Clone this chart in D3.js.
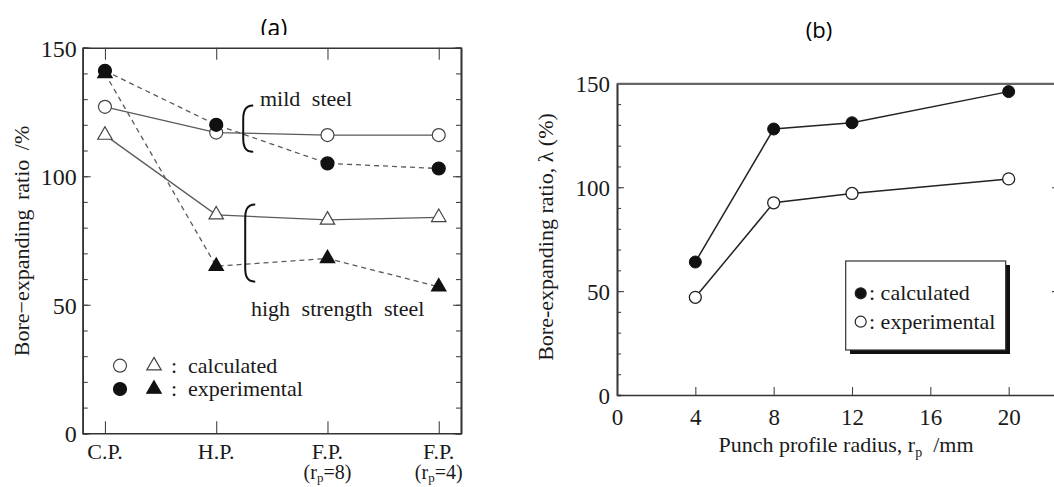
<!DOCTYPE html>
<html>
<head>
<meta charset="utf-8">
<script src="https://cdn.jsdelivr.net/npm/d3@7"></script>
<style>
  body { margin: 0; background: #fff; }
  svg { display: block; }
  svg text { font-family: "Liberation Serif", "Times New Roman", serif !important; fill: #1a1a1a; }
  svg text.title { font-family: "Open Sans", "Liberation Sans", sans-serif !important; fill: #000; }
</style>
</head>
<body>
<svg id="chart" width="1054" height="487" font-family="Liberation Serif"></svg>
<script>
// ---- panel (a) data ----
const catsA = ['C.P.', 'H.P.', 'F.P.8', 'F.P.4'];
const catLabelsA = ['C.P.', 'H.P.', 'F.P.', 'F.P.'];
const catSubA = ['', '', '8', '4'];
const mildCalc = [127, 117, 116, 116];
const mildExp = [141, 120, 105, 103];
const hssCalc = [116, 85, 83, 84];
const hssExp = [140, 65, 68, 57];
const yTicksA = [0, 50, 100, 150];

// ---- panel (b) data ----
const radiusB = [4, 8, 12, 20];
const calcB = [64, 128, 131, 146];
const expB = [47, 92.5, 97, 104];
const xTicksB = [0, 4, 8, 12, 16, 20];
const yTicksB = [0, 50, 100, 150];

const svg = d3.select('#chart');

// titles
svg.append('text').attr('class', 'title')
  .attr('x', 274).attr('y', 36).attr('text-anchor', 'middle')
  .style('font-size', '23px').text('(a)');
svg.append('text').attr('class', 'title')
  .attr('x', 819).attr('y', 38).attr('text-anchor', 'middle')
  .style('font-size', '22px').text('(b)');
// the (a) picture sits over the bottom of its title
svg.append('rect').attr('x', 0).attr('y', 35).attr('width', 520).attr('height', 452)
  .attr('fill', '#fff');

// ================= panel (a) =================
const xa = d3.scalePoint().domain(catsA).range([82.7, 461]).padding(0.2);
const ya = d3.scaleLinear().domain([0, 150]).range([433.3, 47.7]);
const ga = svg.append('g');

function styleAxis(g) {
  g.attr('font-family', 'Liberation Serif');
  g.selectAll('.domain').attr('stroke', '#333').attr('stroke-width', 1.6);
  g.selectAll('.tick line').attr('stroke', '#444').attr('stroke-width', 1.1);
  g.selectAll('text').attr('fill', '#1a1a1a');
}

// minor y ticks (every 10), left and right, inward
ga.append('g').attr('transform', 'translate(82.7,0)')
  .call(d3.axisLeft(ya).tickValues(d3.range(0, 151, 10)).tickSize(-5).tickFormat(''))
  .call(styleAxis);
ga.append('g').attr('transform', 'translate(461,0)')
  .call(d3.axisRight(ya).tickValues(d3.range(0, 151, 10)).tickSize(-5).tickFormat(''))
  .call(styleAxis);
// major y ticks with labels
ga.append('g').attr('transform', 'translate(82.7,0)')
  .call(d3.axisLeft(ya).tickValues(yTicksA).tickSizeInner(-8).tickSizeOuter(0).tickPadding(6))
  .call(styleAxis)
  .selectAll('text').style('font-size', '24px').attr('dy', '0.35em');
ga.append('g').attr('transform', 'translate(461,0)')
  .call(d3.axisRight(ya).tickValues(yTicksA).tickSizeInner(-8).tickSizeOuter(0).tickFormat(''))
  .call(styleAxis);
// x axes top / bottom, inward ticks
ga.append('g').attr('transform', 'translate(0,433.3)')
  .call(d3.axisBottom(xa).tickSizeInner(-12).tickSizeOuter(0).tickFormat(''))
  .call(styleAxis);
ga.append('g').attr('transform', 'translate(0,47.7)')
  .call(d3.axisTop(xa).tickSizeInner(-12).tickSizeOuter(0).tickFormat(''))
  .call(styleAxis);

// category labels
catsA.forEach(function(c, i) {
  ga.append('text').attr('x', xa(c)).attr('y', 459).attr('text-anchor', 'middle')
    .style('font-size', '22px').text(catLabelsA[i]);
  if (catSubA[i]) {
    const t = ga.append('text').attr('x', xa(c)).attr('y', 479).attr('text-anchor', 'middle')
      .style('font-size', '20px');
    t.append('tspan').text('(r');
    t.append('tspan').attr('dy', 3).style('font-size', '13px').text('p');
    t.append('tspan').attr('dy', -3).text('=' + catSubA[i] + ')');
  }
});

// y label
ga.append('text')
  .attr('transform', 'translate(29,241) rotate(-90)')
  .attr('text-anchor', 'middle')
  .style('font-size', '22px').style('word-spacing', '4px')
  .text('Bore\u2212expanding ratio /%');

const lineA = d3.line().x((d, i) => xa(catsA[i])).y(d => ya(d));

function drawSeries(values, dashed) {
  ga.append('path').datum(values)
    .attr('d', lineA).attr('fill', 'none')
    .attr('stroke', '#5a5a5a').attr('stroke-width', 1.3)
    .attr('stroke-dasharray', dashed ? '5,4' : null);
}
drawSeries(mildCalc, false);
drawSeries(hssCalc, false);
drawSeries(mildExp, true);
drawSeries(hssExp, true);

const tri = d3.symbol(d3.symbolTriangle, 90);
function circles(values, filled) {
  ga.selectAll(null).data(values).enter().append('circle')
    .attr('cx', (d, i) => xa(catsA[i])).attr('cy', d => ya(d)).attr('r', 6.5)
    .attr('fill', filled ? '#111' : '#fff').attr('stroke', filled ? '#111' : '#444')
    .attr('stroke-width', 1.2);
}
function triangles(values, filled) {
  ga.selectAll(null).data(values).enter().append('path')
    .attr('d', tri)
    .attr('transform', (d, i) => 'translate(' + xa(catsA[i]) + ',' + ya(d) + ')')
    .attr('fill', filled ? '#111' : '#fff').attr('stroke', filled ? '#111' : '#444')
    .attr('stroke-width', 1.2);
}
circles(mildCalc, false);
triangles(hssCalc, false);
triangles(hssExp, true);
circles(mildExp, true);

// braces and group labels
function brace(x, yTop, yBot) {
  const p = d3.path();
  p.moveTo(x + 11, yTop);
  p.bezierCurveTo(x + 2, yTop, x + 1, yTop + 7, x + 1, yTop + 14);
  p.lineTo(x + 1, yBot - 14);
  p.bezierCurveTo(x + 1, yBot - 7, x + 2, yBot, x + 11, yBot);
  ga.append('path').attr('d', p.toString()).attr('fill', 'none')
    .attr('stroke', '#111').attr('stroke-width', 2);
}
brace(xa('H.P.') + 26, ya(127.5), ya(109.5));
brace(xa('H.P.') + 28, ya(89), ya(59));
ga.append('text').attr('x', 260).attr('y', ya(127.2))
  .style('font-size', '22px').style('word-spacing', '6px').text('mild steel');
ga.append('text').attr('x', 251).attr('y', ya(45.6))
  .style('font-size', '22px').style('word-spacing', '6px').text('high strength steel');

// legend (a)
const legA = [
  { y: 365.7, filled: false, label: 'calculated' },
  { y: 389, filled: true, label: 'experimental' }
];
legA.forEach(function(r) {
  ga.append('circle').attr('cx', 120).attr('cy', r.y).attr('r', 6.5)
    .attr('fill', r.filled ? '#111' : '#fff').attr('stroke', r.filled ? '#111' : '#444').attr('stroke-width', 1.2);
  ga.append('path').attr('d', tri).attr('transform', 'translate(154,' + r.y + ')')
    .attr('fill', r.filled ? '#111' : '#fff').attr('stroke', r.filled ? '#111' : '#444').attr('stroke-width', 1.2);
  ga.append('text').attr('x', 171).attr('y', r.y + 7).style('font-size', '22px').text(':');
  ga.append('text').attr('x', 188).attr('y', r.y + 7).style('font-size', '22px').text(r.label);
});

// ================= panel (b) =================
const xb = d3.scaleLinear().domain([0, 22.57]).range([617, 1059]);
const yb = d3.scaleLinear().domain([0, 150]).range([395, 83.3]);
const gb = svg.append('g');

gb.append('g').attr('transform', 'translate(617,0)')
  .call(d3.axisLeft(yb).tickValues(d3.range(0, 151, 10)).tickSize(-4).tickFormat(''))
  .call(styleAxis);
gb.append('g').attr('transform', 'translate(617,0)')
  .call(d3.axisLeft(yb).tickValues(yTicksB).tickSizeInner(-7).tickSizeOuter(0).tickPadding(7))
  .call(styleAxis)
  .selectAll('text').style('font-size', '23px').attr('dy', '0.35em');
gb.append('g').attr('transform', 'translate(1059,0)')
  .call(d3.axisRight(yb).tickValues(yTicksB).tickSizeInner(-7).tickSizeOuter(0).tickFormat(''))
  .call(styleAxis);
gb.append('g').attr('transform', 'translate(0,395)')
  .call(d3.axisBottom(xb).tickValues(xTicksB).tickSizeInner(-8).tickSizeOuter(0).tickPadding(14))
  .call(styleAxis)
  .selectAll('text').style('font-size', '23px');
gb.append('g').attr('transform', 'translate(0,83.3)')
  .call(d3.axisTop(xb).tickValues(xTicksB).tickSize(0).tickFormat(''))
  .call(styleAxis)
  .selectAll('.domain').attr('stroke', '#666').attr('stroke-width', 2.2);

gb.append('text')
  .attr('transform', 'translate(553,237) rotate(-90)')
  .attr('text-anchor', 'middle').style('font-size', '22px')
  .text('Bore-expanding ratio, \u03bb (%)');
const xl = gb.append('text').attr('x', 846).attr('y', 452).attr('text-anchor', 'middle')
  .style('font-size', '22px');
xl.append('tspan').text('Punch profile radius, r');
xl.append('tspan').attr('dy', 5).style('font-size', '14px').text('p');
xl.append('tspan').attr('dy', -5).text('\u2002/mm');

const lineB = d3.line().x((d, i) => xb(radiusB[i])).y(d => yb(d));
[calcB, expB].forEach(function(vals) {
  gb.append('path').datum(vals).attr('d', lineB).attr('fill', 'none')
    .attr('stroke', '#222').attr('stroke-width', 1.5);
});
gb.selectAll(null).data(calcB).enter().append('circle')
  .attr('cx', (d, i) => xb(radiusB[i])).attr('cy', d => yb(d)).attr('r', 6)
  .attr('fill', '#111').attr('stroke', '#111');
gb.selectAll(null).data(expB).enter().append('circle')
  .attr('cx', (d, i) => xb(radiusB[i])).attr('cy', d => yb(d)).attr('r', 6)
  .attr('fill', '#fff').attr('stroke', '#222').attr('stroke-width', 1.3);

// legend (b) with drop shadow
gb.append('rect').attr('x', 850).attr('y', 265).attr('width', 160).attr('height', 89).attr('fill', '#111');
gb.append('rect').attr('x', 845.7).attr('y', 261).attr('width', 160).attr('height', 89)
  .attr('fill', '#fff').attr('stroke', '#333').attr('stroke-width', 1.2);
const legB = [
  { y: 293.3, filled: true, label: ': calculated' },
  { y: 321.7, filled: false, label: ': experimental' }
];
legB.forEach(function(r) {
  gb.append('circle').attr('cx', 860.7).attr('cy', r.y).attr('r', 5.5)
    .attr('fill', r.filled ? '#111' : '#fff').attr('stroke', '#222').attr('stroke-width', 1.2);
  gb.append('text').attr('x', 869).attr('y', r.y + 7).style('font-size', '22px').text(r.label);
});
</script>
</body>
</html>
